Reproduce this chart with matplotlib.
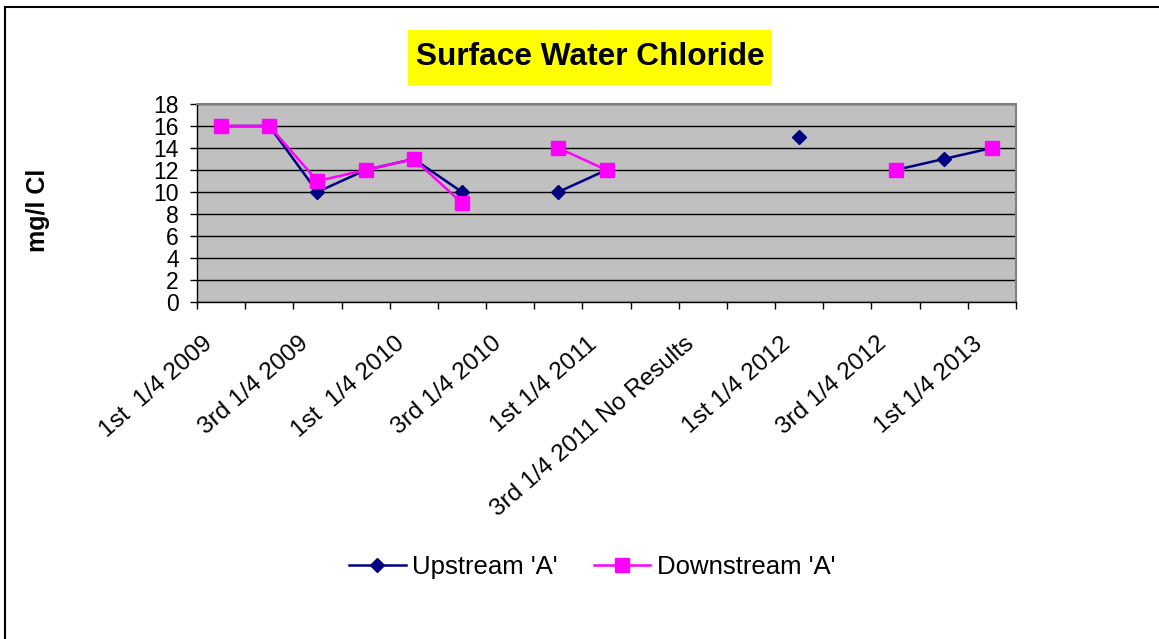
import numpy as np
import matplotlib
matplotlib.use('Agg')
import matplotlib.pyplot as plt
from matplotlib.patches import Rectangle
from matplotlib.lines import Line2D
from matplotlib.transforms import ScaledTranslation

plt.rcParams['font.family'] = ['Liberation Sans', 'DejaVu Sans']

# quarters (only every second one is labelled on the axis)
trimestres = ['1st  1/4 2009', '2nd 1/4 2009', '3rd 1/4 2009', '4th 1/4 2009',
              '1st  1/4 2010', '2nd 1/4 2010', '3rd 1/4 2010', '4th 1/4 2010',
              '1st 1/4 2011', '2nd 1/4 2011', '3rd 1/4 2011 No Results', '4th 1/4 2011',
              '1st 1/4 2012', '2nd 1/4 2012', '3rd 1/4 2012', '4th 1/4 2012',
              '1st 1/4 2013']
nan = np.nan
upstream = [16, 16, 10, 12, 13, 10, nan, 10, 12, nan, nan, nan, 15, nan, 12, 13, 14]
downstream = [16, 16, 11, 12, 13, 9, nan, 14, 12, nan, nan, nan, nan, nan, 12, nan, 14]
yticks = [0, 2, 4, 6, 8, 10, 12, 14, 16, 18]

W, H = 1159, 639
fig = plt.figure(figsize=(W / 100, H / 100), dpi=100)

# borde del grafico (solo arriba e izquierda)
fig.add_artist(Line2D([4.5 / W, 4.5 / W], [0, 1 - 6.5 / H], transform=fig.transFigure, color='black', lw=1.5))
fig.add_artist(Line2D([4.5 / W, 1], [1 - 6.5 / H, 1 - 6.5 / H], transform=fig.transFigure, color='black', lw=1.5))

ax = fig.add_axes([197 / W, 1 - 302 / H, (1016 - 197) / W, (302 - 104) / H])
ax.set_facecolor('#C0C0C0')

x = np.arange(len(trimestres))
ax.plot(x, upstream, color='#000080', lw=1.8, marker='D', ms=7.3,
        markerfacecolor='#000080', markeredgecolor='#000080', label="Upstream 'A'", zorder=3)
ax.plot(x, downstream, color='#FF00FF', lw=1.8, marker='s', ms=10.5,
        markerfacecolor='#FF00FF', markeredgecolor='#FF00FF', label="Downstream 'A'", zorder=4)

ax.set_xlim(-0.5, len(trimestres) - 0.5)
ax.set_ylim(0, 18)
ax.set_yticks(yticks)
ax.set_yticklabels([str(v) for v in yticks], fontsize=16.5)
ax.yaxis.grid(True, color='black', lw=1.0)
ax.set_axisbelow(True)
ax.tick_params(axis='y', direction='out', length=5, width=1, pad=8)

ax.set_xticks(x)
ax.set_xticklabels([t if i % 2 == 0 else '' for i, t in enumerate(trimestres)],
                   rotation=41, ha='right', va='center', rotation_mode='anchor', fontsize=17.6)
ax.set_xticks(np.arange(-0.5, len(trimestres)), minor=True)
ax.tick_params(axis='x', which='major', length=0, pad=28)
ax.tick_params(axis='x', which='minor', direction='out', length=5, width=1)
for lab in ax.get_xticklabels():
    lab.set_transform(lab.get_transform() + ScaledTranslation(-0.12, 0, fig.dpi_scale_trans))

for s in ['top', 'right']:
    ax.spines[s].set_color('#808080')
    ax.spines[s].set_linewidth(1.5)
for s in ['left', 'bottom']:
    ax.spines[s].set_color('black')
    ax.spines[s].set_linewidth(1.0)

fig.text(38 / W, 1 - 210 / H, 'mg/l Cl', rotation=90, fontsize=18, fontweight='bold',
         ha='center', va='center')

# titulo con fondo amarillo
fig.add_artist(Rectangle((408 / W, 1 - 85 / H), (772 - 408) / W, (85 - 30) / H,
                         transform=fig.transFigure, facecolor='#FFFF00', edgecolor='none'))
fig.text(590 / W, 1 - 57 / H, 'Surface Water Chloride', fontsize=22.8, fontweight='bold',
         ha='center', va='center')

fig.legend(loc='center', bbox_to_anchor=(592 / W, 1 - 567 / H), ncol=2, frameon=False,
           fontsize=18.5, handlelength=2.2, handletextpad=0.25, columnspacing=1.4)

fig.savefig('out.png', dpi=100)
